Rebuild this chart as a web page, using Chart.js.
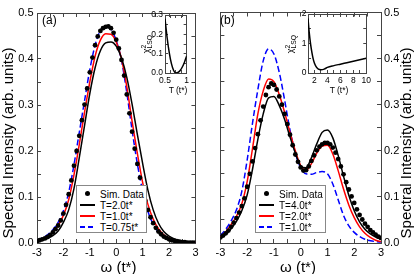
<!DOCTYPE html>
<html><head><meta charset="utf-8">
<script src="https://cdn.jsdelivr.net/npm/chart.js@4.4.1/dist/chart.umd.min.js"></script>
<style>
html,body{margin:0;padding:0;background:#fff;}
#wrap{position:relative;width:415px;height:274px;overflow:hidden;font-family:"Liberation Sans",Arial,sans-serif;color:#000;background:#fff;}
canvas{position:absolute;}
.rot{position:absolute;white-space:nowrap;line-height:1;transform:translate(-50%,-50%) rotate(-90deg);color:#000;}
.ytitle{position:absolute;width:220px;height:16px;line-height:16px;text-align:center;white-space:nowrap;font-size:15px;color:#000;transform:rotate(-90deg);transform-origin:50% 50%;z-index:5;}
.ctr{position:absolute;white-space:nowrap;line-height:1;transform:translate(-50%,-50%);}
.lbl{position:absolute;white-space:nowrap;line-height:1;}
.leg{position:absolute;border:1px solid #888;background:#fff;box-sizing:border-box;width:71px;height:48px;padding-top:2px;font-size:10px;}
.row{position:relative;height:11px;}
.row .lab{position:absolute;left:23px;top:50%;transform:translateY(-50%);white-space:nowrap;}
.sym{position:absolute;left:3px;width:15px;top:5px;height:1.5px;}
.dot{position:absolute;left:8px;top:3px;width:5px;height:5px;border-radius:50%;background:#000;}
.stk{display:inline-block;vertical-align:middle;font-size:0.75em;line-height:0.9;text-align:left;}
.stk span{display:block;}
</style></head>
<body>
<div id="wrap">
<canvas id="cA" width="207" height="274" style="left:0;top:0;width:207px;height:274px"></canvas>
<canvas id="cB" width="208" height="274" style="left:207px;top:0;width:208px;height:274px"></canvas>
<canvas id="cIA" width="60" height="98" style="left:135px;top:0;width:60px;height:98px"></canvas>
<canvas id="cIB" width="92" height="98" style="left:285px;top:0;width:92px;height:98px"></canvas>

<div class="ytitle" style="left:-102px;top:135px">Spectral Intensity (arb. units)</div>
<div class="ytitle" style="left:296px;top:135px">Spectral Intensity (arb. units)</div>
<div class="ctr" style="left:118.5px;top:266px;font-size:15px">ω (t*)</div>
<div class="ctr" style="left:298px;top:266px;font-size:15px">ω (t*)</div>
<div class="lbl" style="left:42px;top:14px;font-size:12px">(a)</div>
<div class="lbl" style="left:220px;top:14px;font-size:12px">(b)</div>
<div class="ctr" style="left:178px;top:90px;font-size:8.5px">T (t*)</div>
<div class="ctr" style="left:339px;top:90px;font-size:8.5px">T (t*)</div>
<div class="rot" style="left:146.5px;top:44px;font-size:9px">χ<span class="stk"><span>2</span><span>LSQ</span></span></div>
<div class="rot" style="left:290.5px;top:44px;font-size:9px">χ<span class="stk"><span>2</span><span>LSQ</span></span></div>

<div class="leg" style="left:76px;top:185px">
  <div class="row"><div class="dot"></div><span class="lab">Sim. Data</span></div>
  <div class="row"><div class="sym" style="background:#000"></div><span class="lab">T=2.0t*</span></div>
  <div class="row"><div class="sym" style="background:#ff0000"></div><span class="lab">T=1.0t*</span></div>
  <div class="row"><div class="sym" style="background:repeating-linear-gradient(to right,#0000ff 0 5px,transparent 5px 8px)"></div><span class="lab">T=0.75t*</span></div>
</div>
<div class="leg" style="left:255px;top:185px">
  <div class="row"><div class="dot"></div><span class="lab">Sim. Data</span></div>
  <div class="row"><div class="sym" style="background:#000"></div><span class="lab">T=4.0t*</span></div>
  <div class="row"><div class="sym" style="background:#ff0000"></div><span class="lab">T=2.0t*</span></div>
  <div class="row"><div class="sym" style="background:repeating-linear-gradient(to right,#0000ff 0 5px,transparent 5px 8px)"></div><span class="lab">T=1.0t*</span></div>
</div>
</div>
<script>
// ---------- data ----------
const omegaDots = [-3.0,-2.9,-2.8,-2.7,-2.6,-2.5,-2.4,-2.3,-2.2,-2.1,-2.0,-1.9,-1.8,-1.7,-1.6,-1.5,-1.4,-1.3,-1.2,-1.1,-1.0,-0.9,-0.8,-0.7,-0.6,-0.5,-0.4,-0.3,-0.2,-0.1,0.0,0.1,0.2,0.3,0.4,0.5,0.6,0.7,0.8,0.9,1.0,1.1,1.2,1.3,1.4,1.5,1.6,1.7,1.8,1.9,2.0,2.1,2.2,2.3,2.4,2.5,2.6,2.7,2.8,2.9,3.0];
const omegaLine = [-3.0,-2.8,-2.6,-2.4,-2.2,-2.0,-1.8,-1.6,-1.4,-1.2,-1.0,-0.8,-0.6,-0.4,-0.2,0.0,0.2,0.4,0.6,0.8,1.0,1.2,1.4,1.6,1.8,2.0,2.2,2.4,2.6,2.8,3.0];

// Panel (a)
const simA = [0.004,0.006,0.008,0.010,0.013,0.017,0.023,0.030,0.038,0.049,0.064,0.083,0.106,0.136,0.168,0.200,0.233,0.267,0.301,0.336,0.371,0.403,0.430,0.449,0.461,0.467,0.470,0.471,0.467,0.457,0.442,0.423,0.398,0.364,0.323,0.282,0.242,0.205,0.172,0.142,0.115,0.092,0.072,0.056,0.043,0.033,0.025,0.019,0.014,0.011,0.008,0.006,0.005,0.004,0.003,0.002,0.002,0.001,0.001,0.001,0.0005];
const a_T20 = [0.003,0.006,0.010,0.016,0.026,0.045,0.072,0.118,0.185,0.255,0.325,0.381,0.418,0.435,0.437,0.428,0.402,0.360,0.302,0.236,0.173,0.115,0.072,0.043,0.025,0.015,0.009,0.005,0.003,0.002,0.001];
const a_T10 = [0.005,0.009,0.015,0.024,0.038,0.060,0.094,0.148,0.214,0.284,0.350,0.406,0.441,0.455,0.454,0.437,0.400,0.340,0.265,0.195,0.132,0.084,0.052,0.031,0.018,0.011,0.007,0.004,0.0025,0.0015,0.001];
const a_T075 = [0.006,0.011,0.018,0.029,0.045,0.070,0.110,0.170,0.240,0.309,0.377,0.430,0.462,0.470,0.465,0.440,0.397,0.327,0.246,0.172,0.113,0.069,0.041,0.024,0.014,0.008,0.005,0.003,0.002,0.001,0.0005];

// Panel (b)
const simB = [0.012,0.016,0.021,0.027,0.035,0.044,0.054,0.066,0.080,0.097,0.122,0.150,0.177,0.206,0.236,0.266,0.296,0.321,0.338,0.346,0.343,0.333,0.318,0.300,0.280,0.258,0.235,0.212,0.192,0.176,0.164,0.157,0.158,0.166,0.178,0.190,0.201,0.209,0.214,0.217,0.217,0.214,0.207,0.196,0.182,0.166,0.149,0.132,0.116,0.101,0.087,0.073,0.061,0.051,0.042,0.035,0.028,0.023,0.018,0.014,0.011];
const b_T40 = [0.011,0.019,0.031,0.047,0.070,0.104,0.160,0.225,0.280,0.315,0.318,0.298,0.268,0.230,0.195,0.167,0.163,0.185,0.215,0.240,0.245,0.228,0.190,0.145,0.103,0.070,0.046,0.030,0.020,0.013,0.008];
const b_T20 = [0.013,0.024,0.040,0.058,0.085,0.133,0.205,0.280,0.330,0.356,0.350,0.322,0.283,0.240,0.200,0.168,0.158,0.172,0.195,0.210,0.212,0.193,0.157,0.117,0.082,0.055,0.035,0.021,0.012,0.006,0.003];
const b_T10 = [0.016,0.030,0.048,0.072,0.112,0.180,0.260,0.333,0.395,0.421,0.410,0.370,0.310,0.245,0.195,0.163,0.150,0.149,0.153,0.155,0.150,0.128,0.094,0.060,0.037,0.023,0.014,0.008,0.005,0.003,0.002];

// Insets
const insetA_T = [0.5,0.55,0.6,0.65,0.7,0.75,0.8,0.85,0.9,0.95,1.0];
const insetA_chi = [0.28,0.181,0.103,0.047,0.013,0.0005,0.003,0.013,0.031,0.056,0.088];
const insetB_T = [1,1.2,1.4,1.6,1.8,2,2.3,2.6,3,3.5,4,5,6,7,8,9,10];
const insetB_chi = [1.85,1.35,0.98,0.70,0.48,0.33,0.20,0.13,0.11,0.13,0.19,0.25,0.30,0.35,0.40,0.45,0.50];

// ---------- helpers ----------
const FONT = "'Liberation Sans', Arial, sans-serif";
const FRAME = '#444';
function pts(xs, ys){ return xs.map((x,i)=>({x:x, y:ys[i]})); }
function xIntLabel(v){ return Math.abs(v-Math.round(v))<1e-6 ? String(Math.round(v)) : ''; }
function yTenthLabel(v){ const r=Math.round(v*10)/10; return Math.abs(v-r)<1e-6 ? r.toFixed(1) : ''; }

function axis(pos, min, max, step, o){
  const hor = (pos==='top'||pos==='bottom');
  return {
    type:'linear', position:pos, min:min, max:max, display:true,
    ticks:{ stepSize:step, autoSkip:false, maxRotation:0, minRotation:0, display:!!o.labels,
            callback:o.cb || (()=>''), font:{family:FONT,size:o.fs,lineHeight:1}, color:'#000', padding:o.pad||0 },
    grid:{ drawOnChartArea:false, drawTicks:true, tickLength:-o.tl, tickColor:FRAME, tickWidth:1 },
    border:{ display:true, color:FRAME, width:1 },
    afterFit:(s)=>{ if(hor) s.height=o.size; else s.width=o.size; }
  };
}

function lineDS(xs, ys, color, dash){
  return { data:pts(xs,ys), borderColor:color, backgroundColor:color, borderWidth:1.5,
           borderDash:dash||[], pointRadius:0, cubicInterpolationMode:'monotone', fill:false };
}
function dotDS(xs, ys){
  return { data:pts(xs,ys), showLine:false, pointRadius:2.4, pointBackgroundColor:'#000',
           pointBorderWidth:0, borderColor:'#000', backgroundColor:'#000' };
}

function baseOpts(scales){
  return { responsive:false, animation:false, devicePixelRatio:1, events:[],
           layout:{padding:0, autoPadding:false},
           plugins:{legend:{display:false}, tooltip:{enabled:false}},
           scales:scales };
}

// Panel (a)
new Chart(document.getElementById('cA'), {
  type:'line',
  data:{ datasets:[
    dotDS(omegaDots, simA),
    lineDS(omegaLine, a_T20, '#000000'),
    lineDS(omegaLine, a_T10, '#ff0000'),
    lineDS(omegaLine, a_T075, '#0000ff', [6,3])
  ]},
  options: baseOpts({
    x: axis('bottom', -3, 3, 0.5, {labels:true, cb:xIntLabel, fs:11, pad:8.5, tl:4, size:31}),
    x2: axis('top', -3, 3, 0.5, {labels:false, fs:11, tl:4, size:6}),
    y: axis('left', 0, 0.5, 0.05, {labels:true, cb:yTenthLabel, fs:11, pad:7.5, tl:4, size:37}),
    y2: axis('right', 0, 0.5, 0.05, {labels:false, fs:11, tl:4, size:7})
  })
});

// Panel (b)
new Chart(document.getElementById('cB'), {
  type:'line',
  data:{ datasets:[
    dotDS(omegaDots, simB),
    lineDS(omegaLine, b_T40, '#000000'),
    lineDS(omegaLine, b_T20, '#ff0000'),
    lineDS(omegaLine, b_T10, '#0000ff', [6,3])
  ]},
  options: baseOpts({
    x: axis('bottom', -3, 3, 0.5, {labels:true, cb:xIntLabel, fs:11, pad:8.5, tl:4, size:31}),
    x2: axis('top', -3, 3, 0.5, {labels:false, fs:11, tl:4, size:6}),
    y: axis('left', 0, 0.5, 0.05, {labels:false, fs:11, tl:4, size:8}),
    y2: axis('right', 0, 0.5, 0.05, {labels:true, cb:yTenthLabel, fs:11, pad:7, tl:4, size:34})
  })
});

// Inset (a)
new Chart(document.getElementById('cIA'), {
  type:'line',
  data:{ datasets:[ lineDS(insetA_T, insetA_chi, '#000000') ]},
  options: baseOpts({
    x: axis('bottom', 0.5, 1, 0.125, {labels:true, cb:(v)=>(Math.abs(v-0.5)<1e-6?'0.5':(Math.abs(v-1)<1e-6?'1':'')), fs:8.5, pad:6, tl:3, size:25}),
    x2: axis('top', 0.5, 1, 0.125, {labels:false, fs:8.5, tl:3, size:15}),
    y: axis('left', 0, 0.3, 0.05, {labels:true, cb:yTenthLabel, fs:8.5, pad:5, tl:3, size:30}),
    y2: axis('right', 0, 0.3, 0.05, {labels:false, fs:8.5, tl:3, size:4})
  })
});

// Inset (b)
new Chart(document.getElementById('cIB'), {
  type:'line',
  data:{ datasets:[ lineDS(insetB_T, insetB_chi, '#000000') ]},
  options: baseOpts({
    x: axis('bottom', 1, 10, 1, {labels:true, cb:(v)=>(Math.round(v)%2===0?String(Math.round(v)):''), fs:8.5, pad:6, tl:3, size:25}),
    x2: axis('top', 1, 10, 1, {labels:false, fs:8.5, tl:3, size:14}),
    y: axis('left', 0, 2, 0.5, {labels:true, cb:(v)=>(Math.abs(v-Math.round(v))<1e-6?String(Math.round(v)):''), fs:8.5, pad:4.5, tl:3, size:23}),
    y2: axis('right', 0, 2, 0.5, {labels:false, fs:8.5, tl:3, size:7})
  })
});
</script>
</body></html>
